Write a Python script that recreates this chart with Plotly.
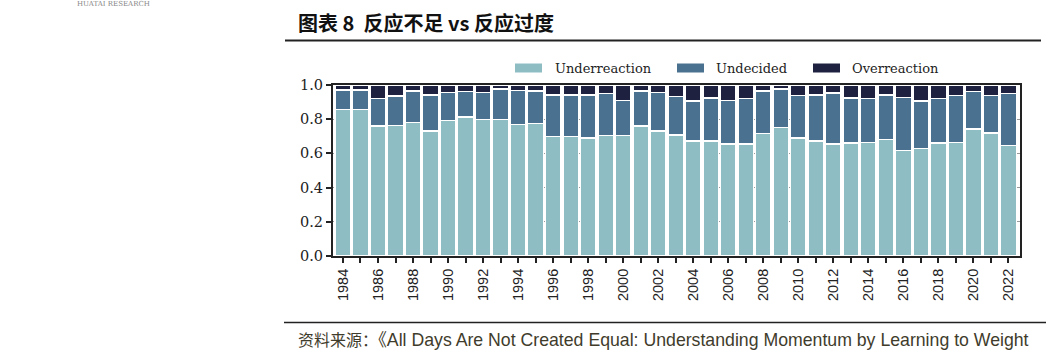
import plotly.graph_objects as go

years = [1984, 1985, 1986, 1987, 1988, 1989, 1990, 1991, 1992, 1993,
         1994, 1995, 1996, 1997, 1998, 1999, 2000, 2001, 2002, 2003,
         2004, 2005, 2006, 2007, 2008, 2009, 2010, 2011, 2012, 2013,
         2014, 2015, 2016, 2017, 2018, 2019, 2020, 2021, 2022]

underreaction = [0.857, 0.857, 0.760, 0.764, 0.780, 0.730, 0.793, 0.814, 0.797, 0.797,
                 0.768, 0.775, 0.700, 0.700, 0.690, 0.705, 0.705, 0.760, 0.730, 0.707,
                 0.672, 0.672, 0.656, 0.656, 0.715, 0.752, 0.691, 0.672, 0.656, 0.660,
                 0.664, 0.680, 0.617, 0.630, 0.660, 0.664, 0.744, 0.719, 0.645]
undecided = [0.114, 0.113, 0.160, 0.173, 0.185, 0.213, 0.164, 0.149, 0.160, 0.181,
             0.201, 0.190, 0.243, 0.243, 0.253, 0.244, 0.205, 0.205, 0.227, 0.227,
             0.234, 0.252, 0.254, 0.264, 0.250, 0.226, 0.249, 0.271, 0.297, 0.264,
             0.256, 0.263, 0.311, 0.276, 0.260, 0.274, 0.217, 0.219, 0.304]
overreaction = [0.029, 0.030, 0.080, 0.063, 0.035, 0.057, 0.043, 0.037, 0.043, 0.022,
                0.031, 0.035, 0.057, 0.057, 0.057, 0.051, 0.090, 0.035, 0.043, 0.066,
                0.094, 0.076, 0.090, 0.080, 0.035, 0.022, 0.060, 0.057, 0.047, 0.076,
                0.080, 0.057, 0.072, 0.094, 0.080, 0.063, 0.039, 0.063, 0.051]

series_names = ["Underreaction", "Undecided", "Overreaction"]
series_colors = ["#8fbdc4", "#4b7190", "#1e2240"]
y_ticks = [0.0, 0.2, 0.4, 0.6, 0.8, 1.0]
x_tick_labels = [str(y) if y % 2 == 0 else "" for y in years]

title_text = "图表 8  反应不足 vs 反应过度"
source_label = "资料来源："
source_body = "《All Days Are Not Created Equal: Understanding Momentum by Learning to Weight"

# pixel geometry helpers
L, R, T, B = 333, 1020, 85, 256
W, H = 1046, 354
def px(x):
    return (x - L) / (R - L)
def py(y):
    return (B - y) / (B - T)

fig = go.Figure()
for name, vals, col in zip(series_names, [underreaction, undecided, overreaction], series_colors):
    fig.add_trace(go.Bar(
        x=years, y=vals, name=name, marker_color=col,
        marker_line_color="white", marker_line_width=1.5,
        showlegend=False,
    ))

fig.update_layout(
    width=W, height=H,
    margin=dict(l=L, r=W - R, t=T, b=H - B),
    barmode="stack", bargap=0.1,
    plot_bgcolor="white", paper_bgcolor="white",
    xaxis=dict(
        range=[1983.43, 2022.66],
        tickmode="array", tickvals=years, ticktext=x_tick_labels,
        tickangle=-90, ticks="outside", ticklen=5, tickwidth=1.5, tickcolor="#222",
        tickfont=dict(family="Liberation Sans, Arial", size=14.5, color="#222"),
        showline=True, linecolor="#222", linewidth=2, mirror=True,
        showgrid=False, zeroline=False,
    ),
    yaxis=dict(
        range=[0, 1.0],
        tickmode="array", tickvals=y_ticks, ticktext=[f"{v:.1f}" for v in y_ticks],
        ticks="outside", ticklen=5, tickwidth=1.5, tickcolor="#222",
        tickfont=dict(family="DejaVu Serif", size=14.5, color="#222"),
        showline=True, linecolor="#222", linewidth=2, mirror=True,
        showgrid=True, gridcolor="#9a9a9a", griddash="dot", gridwidth=1,
        zeroline=False,
    ),
)

# manual legend
legend_items = [(515, 553), (677, 714), (813, 850)]
for (sx, tx), name, col in zip(legend_items, series_names, series_colors):
    fig.add_shape(type="rect", xref="paper", yref="paper",
                  x0=px(sx), x1=px(sx + 27), y0=py(72.5), y1=py(63.5),
                  fillcolor=col, line_width=0)
    fig.add_annotation(xref="paper", yref="paper", x=px(tx), y=py(68),
                       xanchor="left", yanchor="middle", showarrow=False,
                       text=name, font=dict(family="DejaVu Serif", size=13, color="#222"))

# title and rules
fig.add_annotation(xref="paper", yref="paper", x=px(296), y=py(23),
                   xanchor="left", yanchor="middle", showarrow=False,
                   text="<b>" + title_text + "</b>",
                   font=dict(family="Noto Sans CJK SC, Liberation Sans", size=20, color="#111"))
fig.add_shape(type="line", xref="paper", yref="paper",
              x0=px(285), x1=px(1041), y0=py(40.5), y1=py(40.5),
              line=dict(color="#222", width=2))
fig.add_shape(type="line", xref="paper", yref="paper",
              x0=px(284), x1=px(1046), y0=py(322.5), y1=py(322.5),
              line=dict(color="#222", width=1.5))
fig.add_annotation(xref="paper", yref="paper", x=px(296), y=py(340),
                   xanchor="left", yanchor="middle", showarrow=False,
                   text='<span style="font-size:16px">' + source_label + '</span>' + source_body,
                   font=dict(family="Liberation Sans, Noto Sans CJK SC", size=17.7, color="#3f3c2c"))
# header remnant at the very top-left
fig.add_annotation(xref="paper", yref="paper", x=px(114), y=py(4),
                   xanchor="center", yanchor="middle", showarrow=False,
                   text="HUATAI RESEARCH",
                   font=dict(family="DejaVu Serif", size=7, color="#888"))

fig.write_html("out.html")
